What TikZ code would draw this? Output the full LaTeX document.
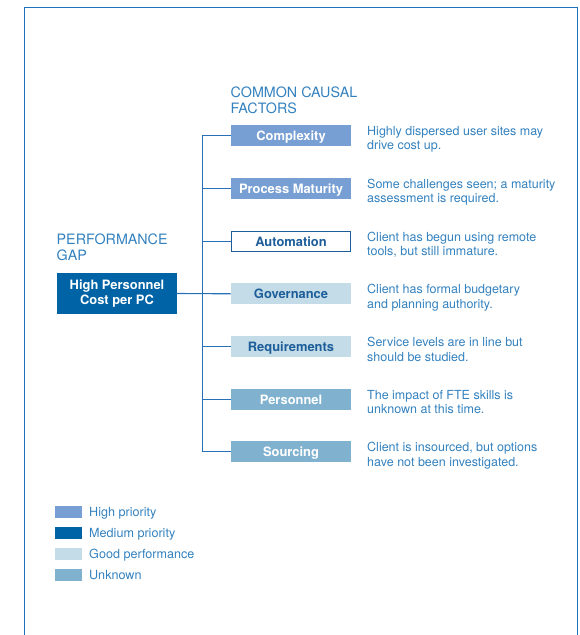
\documentclass[tikz,border=0pt]{standalone}
\usepackage{fontspec}
\setmainfont{TeX Gyre Heros}
\definecolor{hicol}{HTML}{789FD3}
\definecolor{medcol}{HTML}{0063A5}
\definecolor{goodcol}{HTML}{C3DCE8}
\definecolor{unkcol}{HTML}{80B2D0}
\definecolor{desctext}{HTML}{3381BE}
\definecolor{darktext}{HTML}{1D5E9A}
\definecolor{linecol}{HTML}{2670B5}
\definecolor{framecol}{HTML}{1B72BD}
\begin{document}
\begin{tikzpicture}[x=1pt,y=-1pt,
  factor/.style={minimum width=120pt, minimum height=20.7pt, inner sep=0pt, text height=9.6pt, text depth=0pt, font=\fontsize{12.9}{15}\selectfont\bfseries},
  hibox/.style={factor, fill=hicol, text=white},
  goodbox/.style={factor, fill=goodcol, text=darktext},
  unkbox/.style={factor, fill=unkcol, text=white},
  medbox/.style={factor, draw=darktext, line width=1pt, fill=white, text=darktext, minimum width=119pt, minimum height=19.7pt},
  desc/.style={anchor=north west, inner sep=0pt, align=left, text=desctext, font=\fontsize{12.5}{14.5}\selectfont},
  heading/.style={anchor=north west, inner sep=0pt, align=left, text=desctext, font=\fontsize{14.3}{16}\selectfont},
  conn/.style={draw=linecol, line width=1.1pt},
  swatch/.style={minimum width=27pt, minimum height=11.7pt, inner sep=0pt},
  legtext/.style={anchor=base west, inner sep=0pt, text=desctext, font=\fontsize{12.6}{15}\selectfont},
  frame/.style={draw=framecol, line width=1.6pt}]
\useasboundingbox (0,0) rectangle (579,635);
\draw[frame] (24.5,640) -- (24.5,7.5) -- (577.5,7.5) -- (577.5,640);

% headings
\node[heading] (hcf) at (230.5,86.8) {COMMON CAUSAL\\FACTORS};
\node[heading] (hpg) at (56.5,233.8) {PERFORMANCE\\GAP};

% gap box
\node[fill=medcol, text=white, minimum width=120pt, minimum height=40.6pt, inner sep=0pt, align=center,
      font=\fontsize{12.9}{15.5}\selectfont\bfseries] (gap) at (117,293.5) {High Personnel\\Cost per PC};

% factor boxes
\node[hibox]   (cx) at (291,135.5) {Complexity};
\node[hibox]   (pm) at (291,188.3) {Process Maturity};
\node[medbox]  (au) at (291,241.2) {Automation};
\node[goodbox] (gv) at (291,293.8) {Governance};
\node[goodbox] (rq) at (291,346.5) {Requirements};
\node[unkbox]  (ps) at (291,399.3) {Personnel};
\node[unkbox]  (sc) at (291,451.5) {Sourcing};

% descriptions
\node[desc] (dcx) at (367,126.0) {Highly dispersed user sites may\\drive cost up.};
\node[desc] (dpm) at (367,178.8) {Some challenges seen; a maturity\\assessment is required.};
\node[desc] (dau) at (367,231.7) {Client has begun using remote\\tools, but still immature.};
\node[desc] (dgv) at (367,284.3) {Client has formal budgetary\\and planning authority.};
\node[desc] (drq) at (367,337.0) {Service levels are in line but\\should be studied.};
\node[desc] (dps) at (367,389.8) {The impact of FTE skills is\\unknown at this time.};
\node[desc] (dsc) at (367,442.0) {Client is insourced, but options\\have not been investigated.};

% connectors
\coordinate (trunk) at (202.5,0);
\draw[conn] (cx.west) -- (cx.west -| trunk) -- (sc.west -| trunk) -- (sc.west);
\draw[conn] (pm.west) -- (pm.west -| trunk);
\draw[conn] (au.west) -- (au.west -| trunk);
\draw[conn] (gap.east) -- (gv.west);
\draw[conn] (rq.west) -- (rq.west -| trunk);
\draw[conn] (ps.west) -- (ps.west -| trunk);

% legend
\node[swatch, fill=hicol]   (l1) at (68.5,511.9) {};
\node[swatch, fill=medcol]  (l2) at (68.5,532.9) {};
\node[swatch, fill=goodcol] (l3) at (68.5,554.0) {};
\node[swatch, fill=unkcol]  (l4) at (68.5,575.0) {};
\node[legtext] (t1) at (89,516.5) {High priority};
\node[legtext] (t2) at (89,537.5) {Medium priority};
\node[legtext] (t3) at (89,558.6) {Good performance};
\node[legtext] (t4) at (89,579.6) {Unknown};
\end{tikzpicture}
\end{document}
